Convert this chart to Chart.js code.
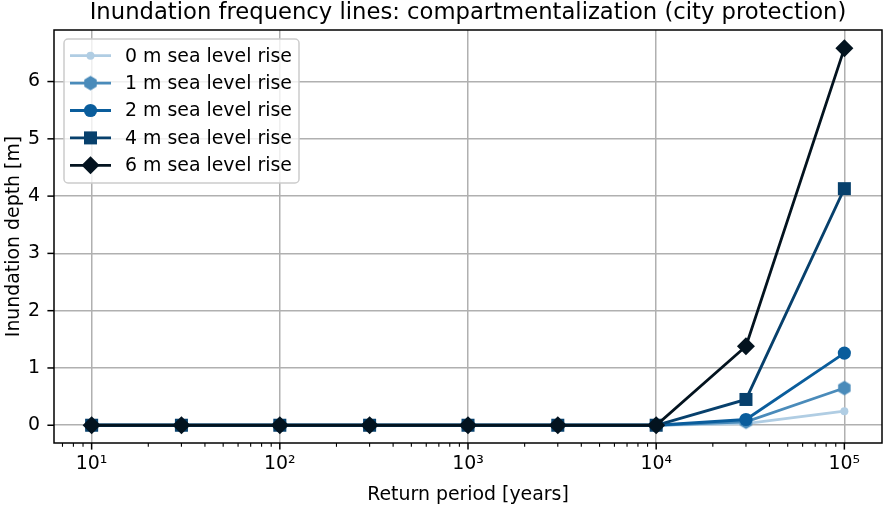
<!DOCTYPE html>
<html><head><meta charset="utf-8">
<script src="https://cdn.jsdelivr.net/npm/chart.js@4"></script>
<style>html,body{margin:0;padding:0;background:#fff}canvas{display:block}</style>
</head><body>
<canvas id="c" width="885" height="506" style="width:885px;height:506px"></canvas>
<script>
// ---- data ----
const returnPeriods = [10, 30, 100, 300, 1000, 3000, 10000, 30000, 100000];
const slr0m = [0, 0, 0, 0, 0, 0, 0, 0.03, 0.245];
const slr1m = [0, 0, 0, 0, 0, 0, 0, 0.06, 0.65];
const slr2m = [0, 0, 0, 0, 0, 0, 0, 0.10, 1.26];
const slr4m = [0, 0, 0, 0, 0, 0, 0, 0.45, 4.13];
const slr6m = [0, 0, 0, 0, 0, 0, 0, 1.38, 6.58];
const seriesLabels = ['0 m sea level rise', '1 m sea level rise', '2 m sea level rise', '4 m sea level rise', '6 m sea level rise'];
const xMajorTicks = [10, 100, 1000, 10000, 100000];
const yTickValues = [0, 1, 2, 3, 4, 5, 6];
const titleText = 'Inundation frequency lines: compartmentalization (city protection)';
const xTitle = 'Return period [years]';
const yTitle = 'Inundation depth [m]';

const FONT = "'DejaVu Sans', sans-serif";
const FS = 18.9;
const colors = ['#b0cde3', '#4a8bba', '#0a5d9c', '#07406c', '#03131f'];

function hexagon(color, r) {
  const s = Math.ceil(2 * r + 2);
  const cv = document.createElement('canvas');
  cv.width = s; cv.height = s;
  const g = cv.getContext('2d');
  g.fillStyle = color;
  g.beginPath();
  for (let i = 0; i < 6; i++) {
    const a = -Math.PI / 2 + i * Math.PI / 3;
    const px = s / 2 + r * Math.cos(a), py = s / 2 + r * Math.sin(a);
    if (i === 0) g.moveTo(px, py); else g.lineTo(px, py);
  }
  g.closePath(); g.fill();
  return cv;
}

const series = [slr0m, slr1m, slr2m, slr4m, slr6m];
const styles = [
  { pointStyle: 'circle', radius: 4 },
  { pointStyle: hexagon(colors[1], 7.2), radius: 7.2 },
  { pointStyle: 'circle', radius: 6.6 },
  { pointStyle: 'rect', radius: 9.2 },
  { pointStyle: 'rectRot', radius: 9 }
];

const datasets = series.map((vals, i) => ({
  label: seriesLabels[i],
  data: returnPeriods.map((x, j) => ({ x: x, y: vals[j] })),
  borderColor: colors[i],
  backgroundColor: colors[i],
  borderWidth: 2.8,
  pointStyle: styles[i].pointStyle,
  pointRadius: styles[i].radius,
  pointHoverRadius: styles[i].radius,
  pointBorderWidth: 0,
  tension: 0,
  order: 4 - i
}));

const isMajor = v => Math.abs(Math.log10(v) - Math.round(Math.log10(v))) < 1e-9;
const sup = { '0': '\u2070', '1': '\u00b9', '2': '\u00b2', '3': '\u00b3', '4': '\u2074', '5': '\u2075', '6': '\u2076', '7': '\u2077', '8': '\u2078', '9': '\u2079' };

const decor = {
  id: 'decor',
  afterDraw(chart) {
    const ctx = chart.ctx, a = chart.chartArea;
    const xs = chart.scales.x, ys = chart.scales.y;
    ctx.save();
    // frame
    ctx.strokeStyle = '#000'; ctx.lineWidth = 1.5;
    ctx.strokeRect(a.left, a.top, a.right - a.left, a.bottom - a.top);
    // x tick marks
    xs.ticks.forEach(t => {
      const px = xs.getPixelForValue(t.value);
      const maj = isMajor(t.value);
      ctx.lineWidth = maj ? 1.5 : 1.1;
      ctx.beginPath(); ctx.moveTo(px, a.bottom); ctx.lineTo(px, a.bottom + (maj ? 6.6 : 3.8)); ctx.stroke();
    });
    ys.ticks.forEach(t => {
      const py = ys.getPixelForValue(t.value);
      ctx.lineWidth = 1.5;
      ctx.beginPath(); ctx.moveTo(a.left, py); ctx.lineTo(a.left - 6.6, py); ctx.stroke();
    });
    // title
    ctx.fillStyle = '#000';
    ctx.font = '22.7px ' + FONT;
    ctx.textAlign = 'center'; ctx.textBaseline = 'middle';
    ctx.fillText(titleText, (a.left + a.right) / 2, 13);
    // legend
    const bx = 64, by = 39, bw = 235, bh = 144, rr = 4;
    ctx.beginPath();
    ctx.moveTo(bx + rr, by);
    ctx.arcTo(bx + bw, by, bx + bw, by + bh, rr);
    ctx.arcTo(bx + bw, by + bh, bx, by + bh, rr);
    ctx.arcTo(bx, by + bh, bx, by, rr);
    ctx.arcTo(bx, by, bx + bw, by, rr);
    ctx.closePath();
    ctx.fillStyle = 'rgba(255,255,255,0.8)'; ctx.fill();
    ctx.strokeStyle = '#cccccc'; ctx.lineWidth = 1.5; ctx.stroke();
    ctx.font = FS + 'px ' + FONT;
    ctx.textAlign = 'left'; ctx.textBaseline = 'middle';
    chart.data.datasets.forEach((ds, i) => {
      const y = 55.7 + 27.4 * i;
      ctx.strokeStyle = ds.borderColor; ctx.lineWidth = 2.8;
      ctx.beginPath(); ctx.moveTo(70, y); ctx.lineTo(111, y); ctx.stroke();
      ctx.fillStyle = ds.backgroundColor;
      Chart.helpers.drawPoint(ctx, { pointStyle: ds.pointStyle, rotation: 0, radius: ds.pointRadius, borderWidth: 0 }, 90.5, y);
      ctx.fillStyle = '#000';
      ctx.fillText(ds.label, 125, y + 1);
    });
    ctx.restore();
  }
};

new Chart(document.getElementById('c'), {
  type: 'line',
  data: { datasets: datasets },
  options: {
    responsive: false,
    animation: false,
    devicePixelRatio: 1,
    layout: { autoPadding: false, padding: { top: 30, right: 3, left: 0, bottom: 0 } },
    plugins: { legend: { display: false }, title: { display: false }, tooltip: { enabled: false } },
    scales: {
      x: {
        type: 'logarithmic',
        min: Math.pow(10, 0.8),
        max: Math.pow(10, 5.2),
        afterBuildTicks(scale) {
          const t = [];
          for (let e = 0; e <= 5; e++) for (let m = 1; m <= 9; m++) {
            const v = m * Math.pow(10, e);
            if (v >= scale.min && v <= scale.max) t.push({ value: v, major: m === 1 });
          }
          scale.ticks = t;
        },
        afterFit(scale) { scale.height = 63; scale.paddingLeft = 0; scale.paddingRight = 0; },
        ticks: {
          autoSkip: false, maxRotation: 0, minRotation: 0, padding: 10,
          color: '#000', font: { family: FONT, size: FS },
          callback(v) {
            if (!isMajor(v)) return '';
            const e = String(Math.round(Math.log10(v)));
            return '10' + e.split('').map(c => sup[c]).join('');
          }
        },
        grid: {
          drawTicks: false, lineWidth: 1.5,
          color: ctx => (ctx.tick && isMajor(ctx.tick.value)) ? '#b0b0b0' : 'rgba(0,0,0,0)'
        },
        border: { display: false },
        title: { display: true, text: xTitle, color: '#000', font: { family: FONT, size: FS }, padding: { top: 0, bottom: 0 } }
      },
      y: {
        type: 'linear',
        min: -0.31,
        max: 6.9,
        afterBuildTicks(scale) { scale.ticks = yTickValues.map(v => ({ value: v })); },
        afterFit(scale) { scale.width = 54; scale.paddingTop = 0; scale.paddingBottom = 0; },
        ticks: { padding: 14, color: '#000', font: { family: FONT, size: FS } },
        grid: { drawTicks: false, lineWidth: 1.5, color: '#b0b0b0' },
        border: { display: false },
        title: { display: true, text: yTitle, color: '#000', font: { family: FONT, size: FS }, padding: { top: 3, bottom: 0 } }
      }
    }
  },
  plugins: [decor]
});
</script>
</body></html>
